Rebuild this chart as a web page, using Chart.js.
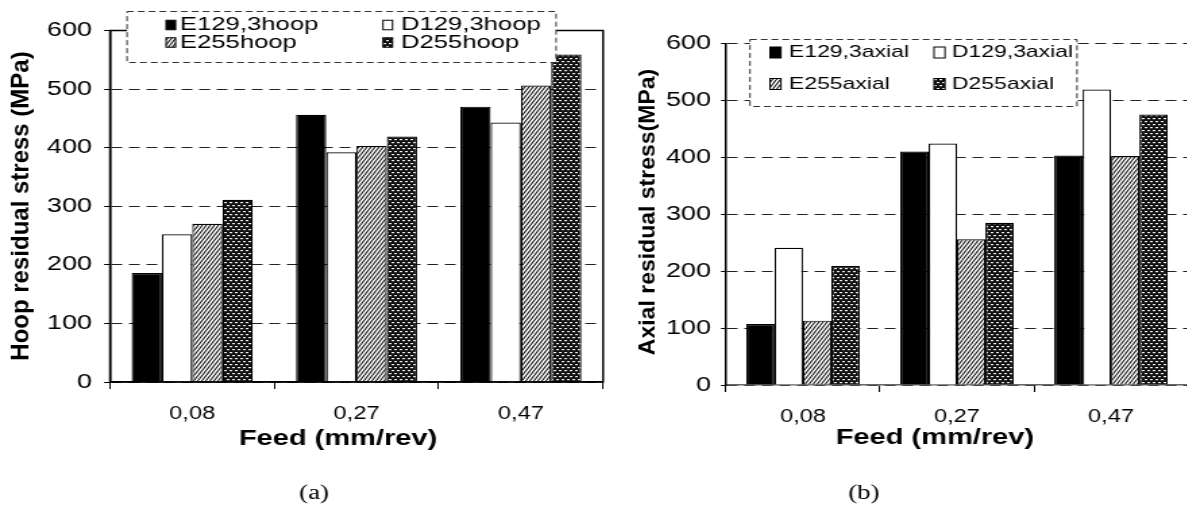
<!DOCTYPE html>
<html>
<head>
<meta charset="utf-8">
<script src="https://cdn.jsdelivr.net/npm/chart.js@4/dist/chart.umd.min.js"></script>
<style>
  html, body { margin: 0; padding: 0; background: #fff; overflow: hidden; width: 1187px; height: 506px; }
  .panel { position: absolute; top: 0; transform-origin: 0 0; transform: scaleX(1.35); }
  #panelA { left: 0; }
  #panelB { left: 610px; }
</style>
</head>
<body>
<div class="panel" id="panelA"><canvas id="hoop" width="452" height="506"></canvas></div>
<div class="panel" id="panelB"><canvas id="axial" width="430" height="506"></canvas></div>
<script>
// the figure is wider than it is tall, panels get stretched sideways by S
const S = 1.35;
const FONT = '"Liberation Sans", Arial, sans-serif';
const SERIF = '"Liberation Serif", "Times New Roman", serif';

const feeds = ['0,08', '0,27', '0,47'];
const yTickValues = [0, 100, 200, 300, 400, 500, 600];

const hoopLabels = ['E129,3hoop', 'D129,3hoop', 'E255hoop', 'D255hoop'];
const hoopE129 = [186, 456, 470];
const hoopD129 = [252, 392, 443];
const hoopE255 = [270, 403, 506];
const hoopD255 = [311, 419, 559];

const axialLabels = ['E129,3axial', 'D129,3axial', 'E255axial', 'D255axial'];
const axialE129 = [107, 410, 403];
const axialD129 = [241, 424, 519];
const axialE255 = [113, 256, 402];
const axialD255 = [209, 285, 475];

function hatchPattern() {
  const c = document.createElement('canvas');
  c.width = 3; c.height = 5;
  const g = c.getContext('2d');
  g.fillStyle = '#fff';
  g.fillRect(0, 0, 3, 5);
  g.strokeStyle = '#111';
  g.lineWidth = 1.1;
  g.beginPath();
  for (const dx of [-3, 0, 3]) { g.moveTo(dx, 5); g.lineTo(dx + 3, 0); }
  g.stroke();
  return g.createPattern(c, 'repeat');
}

function dotPattern() {
  const c = document.createElement('canvas');
  c.width = 4; c.height = 6;
  const g = c.getContext('2d');
  g.fillStyle = '#111';
  g.fillRect(0, 0, 4, 6);
  g.fillStyle = '#eee';
  g.fillRect(0, 1, 2, 1.2);
  g.fillRect(2, 4, 2, 1.2);
  return g.createPattern(c, 'repeat');
}

const fills = ['#000', '#fff', hatchPattern(), dotPattern()];

const decorPlugin = {
  id: 'decor',
  afterDraw(chart, args, o) {
    const ctx = chart.ctx, a = chart.chartArea;
    ctx.save();
    if (o.frame) {
      ctx.strokeStyle = '#000';
      ctx.lineWidth = 1.5;
      ctx.strokeRect(a.left, a.top, a.right - a.left, a.bottom - a.top);
    }

    // legend: dashed box, two columns
    const L = o.legend;
    ctx.fillStyle = '#fff';
    ctx.fillRect(L.x, L.y, L.w, L.h);
    ctx.setLineDash([5, 3]);
    ctx.lineWidth = 1;
    ctx.strokeStyle = '#333';
    ctx.strokeRect(L.x, L.y + 0.5, L.w, L.h);
    ctx.setLineDash([]);
    ctx.font = L.font;
    ctx.textBaseline = 'middle';
    ctx.textAlign = 'left';
    chart.data.datasets.forEach((ds, i) => {
      const col = i % 2, row = Math.floor(i / 2);
      const sx = L.cols[col], cy = L.rows[row];
      ctx.fillStyle = ds.backgroundColor;
      ctx.fillRect(sx, cy - L.box / 2, L.box / S, L.box);
      ctx.strokeStyle = '#000';
      ctx.lineWidth = 1;
      ctx.strokeRect(sx, cy - L.box / 2, L.box / S, L.box);
      ctx.fillStyle = '#000';
      ctx.fillText(ds.label, L.text[col], cy);
    });

    // x title and caption
    ctx.fillStyle = '#000';
    ctx.textAlign = 'center';
    ctx.textBaseline = 'alphabetic';
    ctx.font = 'bold 21.5px ' + FONT;
    ctx.fillText('Feed (mm/rev)', o.xTitle.x, o.xTitle.y);
    ctx.font = '20px ' + SERIF;
    ctx.fillText(o.caption.text, o.caption.x, o.caption.y);

    // y title, not stretched
    ctx.translate(o.yTitle.x, o.yTitle.y);
    ctx.scale(1 / S, 1);
    ctx.rotate(-Math.PI / 2);
    ctx.font = 'bold ' + o.yTitle.size + 'px ' + FONT;
    ctx.textBaseline = 'middle';
    ctx.fillText(o.yTitle.text, 0, 0);
    ctx.restore();
  }
};

function makeChart(id, labels, series, o) {
  return new Chart(document.getElementById(id), {
    type: 'bar',
    data: {
      labels: feeds,
      datasets: series.map((vals, i) => ({
        label: labels[i],
        data: vals,
        backgroundColor: fills[i],
        borderColor: '#000',
        borderWidth: 1.2,
        categoryPercentage: 0.737,
        barPercentage: 1.0
      }))
    },
    options: {
      responsive: false,
      animation: false,
      events: [],
      layout: { padding: { top: o.top, right: o.right, left: 0, bottom: 0 } },
      plugins: {
        legend: { display: false },
        tooltip: { enabled: false },
        decor: o.decor
      },
      scales: {
        x: {
          grid: { drawOnChartArea: false, drawTicks: true, tickLength: 7, tickColor: '#000', tickWidth: 1, offset: true },
          border: { color: o.xAxisColor, width: 1.5 },
          ticks: { color: '#000', font: { family: FONT, size: 17.5 }, padding: 15, maxRotation: 0 },
          afterFit(s) { s.height = o.xHeight; }
        },
        y: {
          min: 0,
          max: 600,
          afterBuildTicks(s) { s.ticks = yTickValues.map(v => ({ value: v })); },
          grid: { color: '#222', lineWidth: 1, tickLength: o.tick, tickColor: '#000', tickWidth: 1 },
          border: { color: '#000', width: 1.5, dash: [8, 5] },
          ticks: { color: '#000', font: { family: FONT, size: 20 }, padding: o.tickPad },
          afterFit(s) { s.width = o.yWidth; }
        }
      }
    },
    plugins: [decorPlugin]
  });
}

makeChart('hoop', hoopLabels, [hoopE129, hoopD129, hoopE255, hoopD255], {
  top: 30.5, right: 5.3, xHeight: 124, yWidth: 81.5, tick: 4.4, tickPad: 8.9, xAxisColor: '#000',
  decor: {
    frame: true,
    legend: { x: 94.1, y: 11, w: 317.8, h: 51, box: 9.5, font: '19px ' + FONT,
      cols: [123, 283.7], text: [133.3, 297], rows: [25, 42.5] },
    xTitle: { x: 250.4, y: 445 },
    caption: { text: '(a)', x: 232.6, y: 499 },
    yTitle: { text: 'Hoop residual stress (MPa)', x: 15.9, y: 206, size: 24 }
  }
});

makeChart('axial', axialLabels, [axialE129, axialD129, axialE255, axialD255], {
  top: 43.3, right: 1.85, xHeight: 121, yWidth: 85.9, tick: 3.7, tickPad: 7.4, xAxisColor: '#666',
  decor: {
    frame: false,
    legend: { x: 103.7, y: 39, w: 242.2, h: 67, box: 11, font: '17px ' + FONT,
      cols: [118.5, 240], text: [132.6, 253.3], rows: [52.5, 84] },
    xTitle: { x: 240.7, y: 444 },
    caption: { text: '(b)', x: 188.1, y: 499 },
    yTitle: { text: 'Axial residual stress(MPa)', x: 28.1, y: 212, size: 23 }
  }
});
</script>
</body>
</html>
